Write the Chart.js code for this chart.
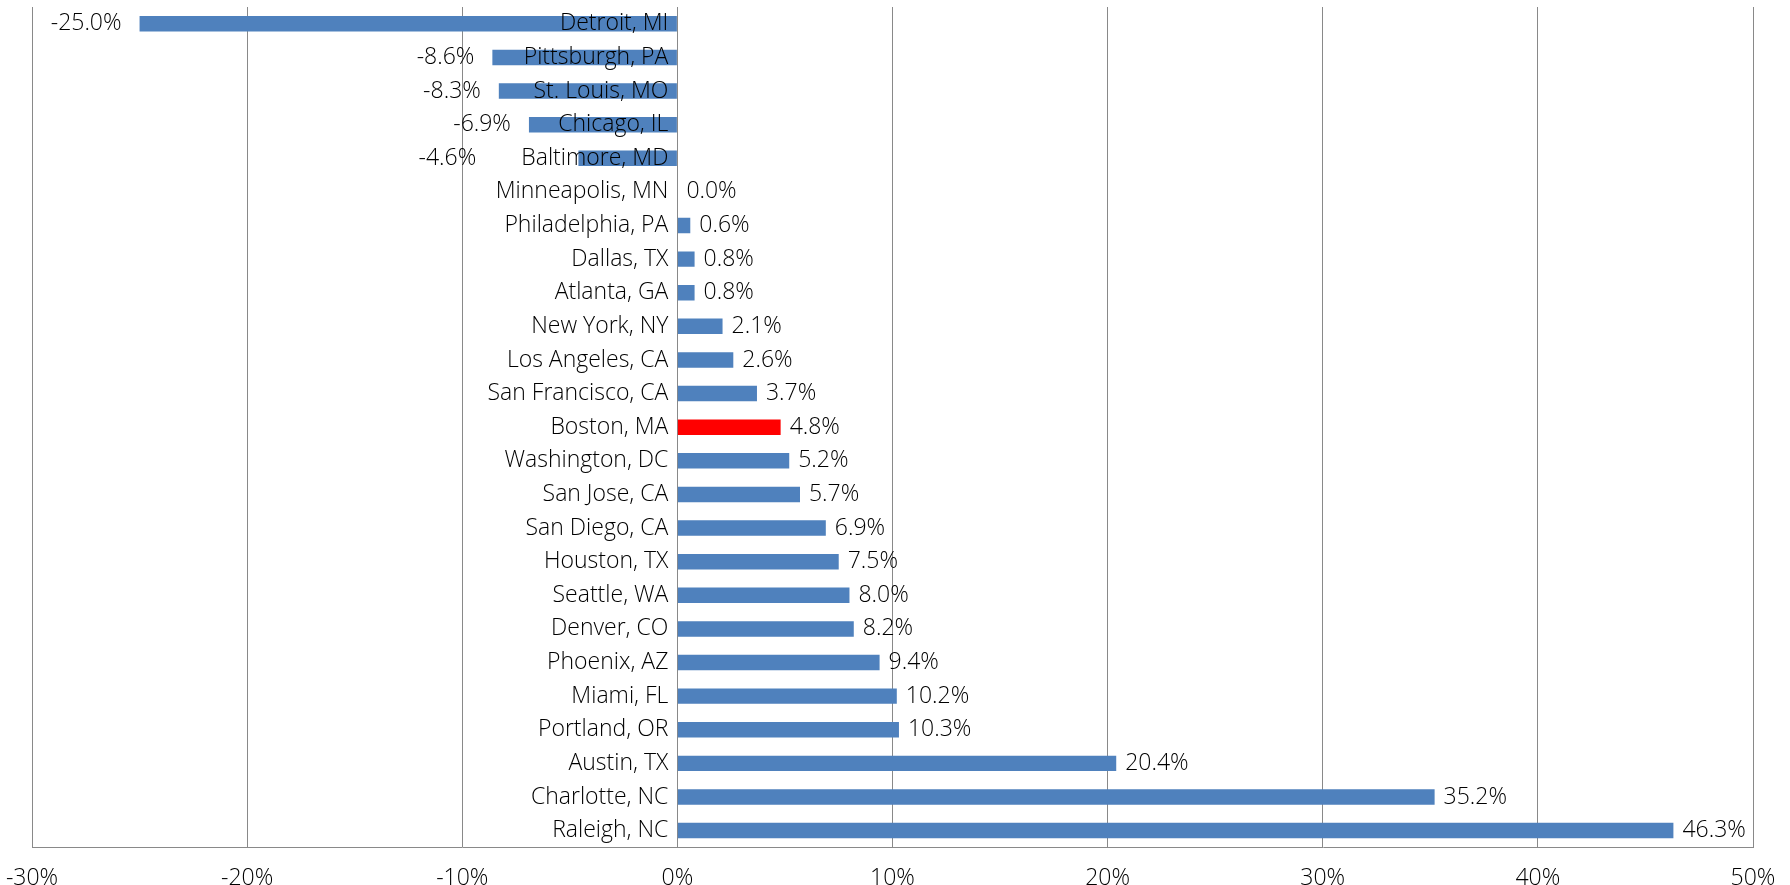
<!DOCTYPE html>
<html lang="en">
<head>
    <meta charset="UTF-8">
    <title>Metro Change</title>
    <style>
        body {
            margin: 0;
            padding: 0;
            background-color: #fff;
        }
        .chart-container {
            width: 1790px;
            height: 885px;
            position: relative;
        }
    </style>
    <script src="https://cdn.jsdelivr.net/npm/chart.js"></script>
</head>
<body>

<div class="chart-container">
    <canvas id="metroChart"></canvas>
</div>

<script>
    // Categories, top to bottom
    const cities = [
        'Detroit, MI', 'Pittsburgh, PA', 'St. Louis, MO', 'Chicago, IL', 'Baltimore, MD',
        'Minneapolis, MN', 'Philadelphia, PA', 'Dallas, TX', 'Atlanta, GA', 'New York, NY',
        'Los Angeles, CA', 'San Francisco, CA', 'Boston, MA', 'Washington, DC', 'San Jose, CA',
        'San Diego, CA', 'Houston, TX', 'Seattle, WA', 'Denver, CO', 'Phoenix, AZ',
        'Miami, FL', 'Portland, OR', 'Austin, TX', 'Charlotte, NC', 'Raleigh, NC'
    ];
    // Percent change
    const changes = [
        -25.0, -8.6, -8.3, -6.9, -4.6,
        0.0, 0.6, 0.8, 0.8, 2.1,
        2.6, 3.7, 4.8, 5.2, 5.7,
        6.9, 7.5, 8.0, 8.2, 9.4,
        10.2, 10.3, 20.4, 35.2, 46.3
    ];
    const highlightCity = 'Boston, MA';
    const xTicks = [-30, -20, -10, 0, 10, 20, 30, 40, 50];

    const FONT = '"Open Sans", sans-serif';
    const FONT_SIZE = 23;
    const FONT_WEIGHT = '300';
    const TEXT_COLOR = '#000';

    // draws city names next to the zero line and value labels at bar ends
    const labelPlugin = {
        id: 'barLabels',
        afterDatasetsDraw(chart) {
            const ctx = chart.ctx;
            const xScale = chart.scales.x;
            const zeroX = xScale.getPixelForValue(0);
            const meta = chart.getDatasetMeta(0);
            ctx.save();
            ctx.font = FONT_WEIGHT + ' ' + FONT_SIZE + 'px ' + FONT;
            ctx.fillStyle = TEXT_COLOR;
            ctx.textBaseline = 'middle';
            meta.data.forEach((bar, i) => {
                const v = changes[i];
                // category label
                ctx.textAlign = 'right';
                ctx.fillText(cities[i], zeroX - 9, bar.y);
                const nameLeft = zeroX - 9 - ctx.measureText(cities[i]).width;
                // value label
                const txt = v.toFixed(1) + '%';
                if (v < 0) {
                    // keep negative labels clear of the city name
                    ctx.textAlign = 'right';
                    ctx.fillText(txt, Math.min(bar.x - 18, nameLeft - 45), bar.y);
                } else {
                    ctx.textAlign = 'left';
                    ctx.fillText(txt, bar.x + 9, bar.y);
                }
            });
            ctx.restore();
        }
    };

    const ctx = document.getElementById('metroChart').getContext('2d');
    const metroChart = new Chart(ctx, {
        type: 'bar',
        data: {
            labels: cities,
            datasets: [{
                data: changes,
                backgroundColor: cities.map(c => c === highlightCity ? '#FF0000' : '#4F81BD'),
                borderWidth: 0,
                categoryPercentage: 1,
                barPercentage: 0.46
            }]
        },
        options: {
            indexAxis: 'y',
            responsive: true,
            maintainAspectRatio: false,
            animation: false,
            layout: {
                padding: { left: 0, right: 0, top: 7, bottom: -24 }
            },
            plugins: {
                legend: { display: false },
                tooltip: { enabled: false }
            },
            scales: {
                x: {
                    min: -30,
                    max: 50,
                    afterBuildTicks: (scale) => {
                        scale.ticks = xTicks.map(v => ({ value: v }));
                    },
                    afterFit: (scale) => {
                        // side room so the plot spans like the original
                        scale.paddingLeft = 32;
                        scale.paddingRight = 37;
                    },
                    grid: {
                        color: '#898989',
                        lineWidth: 1,
                        drawTicks: false
                    },
                    border: { display: true, color: '#898989', width: 1 },
                    ticks: {
                        padding: 17,
                        color: TEXT_COLOR,
                        font: { family: FONT, size: FONT_SIZE, weight: FONT_WEIGHT },
                        callback: (v) => v + '%'
                    }
                },
                y: {
                    display: false
                }
            }
        },
        plugins: [labelPlugin]
    });
</script>

</body>
</html>
